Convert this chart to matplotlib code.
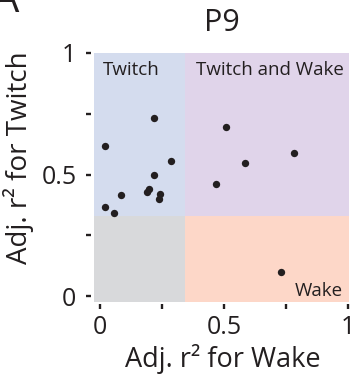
import matplotlib
matplotlib.use("Agg")
import matplotlib.pyplot as plt
from matplotlib.patches import Rectangle

plt.rcParams['font.family'] = ['Open Sans', 'DejaVu Sans']

# Adjusted r² per unit (P9)
wake_r2 = [0.216, 0.019, 0.287, 0.217, 0.196, 0.189, 0.243, 0.238, 0.084, 0.020, 0.055,
           0.509, 0.783, 0.583, 0.468, 0.730]
twitch_r2 = [0.732, 0.616, 0.557, 0.500, 0.441, 0.429, 0.421, 0.399, 0.414, 0.366, 0.344,
             0.695, 0.589, 0.548, 0.459, 0.101]

wake_thresh = 0.342
twitch_thresh = 0.329
xlim = (-0.024, 1.005)
ylim = (-0.022, 1.0)

quad_colors = {
    'twitch': '#d4dcee',
    'both': '#e0d4ea',
    'none': '#d8d9db',
    'wake': '#fdd7c8',
}
ink = '#231f20'

fig = plt.figure(figsize=(3.54, 3.79), dpi=100)
ax = fig.add_axes([0.2655, 0.204, 0.7213, 0.657])

x0, x1 = xlim
y0, y1 = ylim
ax.add_patch(Rectangle((x0, twitch_thresh), wake_thresh - x0, y1 - twitch_thresh,
                       color=quad_colors['twitch'], lw=0, zorder=0))
ax.add_patch(Rectangle((wake_thresh, twitch_thresh), x1 - wake_thresh, y1 - twitch_thresh,
                       color=quad_colors['both'], lw=0, zorder=0))
ax.add_patch(Rectangle((x0, y0), wake_thresh - x0, twitch_thresh - y0,
                       color=quad_colors['none'], lw=0, zorder=0))
ax.add_patch(Rectangle((wake_thresh, y0), x1 - wake_thresh, twitch_thresh - y0,
                       color=quad_colors['wake'], lw=0, zorder=0))

ax.scatter(wake_r2, twitch_r2, s=28, color=ink, zorder=3, linewidths=0)

ax.text(0.012, 0.907, 'Twitch', fontsize=13.5, color=ink, va='baseline', ha='left')
ax.text(0.387, 0.907, 'Twitch and Wake', fontsize=13.5, color=ink, va='baseline', ha='left')
ax.text(0.979, 0.0, 'Wake', fontsize=13.5, color=ink, va='baseline', ha='right')

ax.set_xlim(xlim)
ax.set_ylim(ylim)
ax.set_xticks([0, 0.25, 0.5, 0.75, 1])
ax.set_xticklabels(['0', '', '0.5', '', '1'])
ax.set_yticks([0, 0.25, 0.5, 0.75, 1])
ax.set_yticklabels(['0', '', '0.5', '', '1'])

for side in ['left', 'bottom']:
    ax.spines[side].set_position(('outward', 2))
for s in ax.spines.values():
    s.set_visible(False)
ax.tick_params(direction='out', length=3.6, width=1.7, color=ink,
               labelsize=18, labelcolor=ink)
ax.tick_params(axis='x', pad=4)
ax.tick_params(axis='y', pad=7)

ax.set_xlabel('Adj. r² for Wake', fontsize=19.5, color=ink)
ax.xaxis.set_label_coords(0.505, -0.262)
ax.xaxis.label.set_va('baseline')
ax.set_ylabel('Adj. r² for Twitch', fontsize=20, color=ink)
ax.yaxis.set_label_coords(-0.235, 0.577)
ax.yaxis.label.set_va('bottom')

fig.text(0.5 * (0.2655 + 0.9868), 1 - 31 / 379, 'P9', fontsize=22, color=ink,
         ha='center', va='baseline')

fig.text(19 / 354, 1 - 12 / 379, 'A', fontsize=30, color=ink, ha='right', va='baseline')

fig.savefig('out.png', dpi=100)
